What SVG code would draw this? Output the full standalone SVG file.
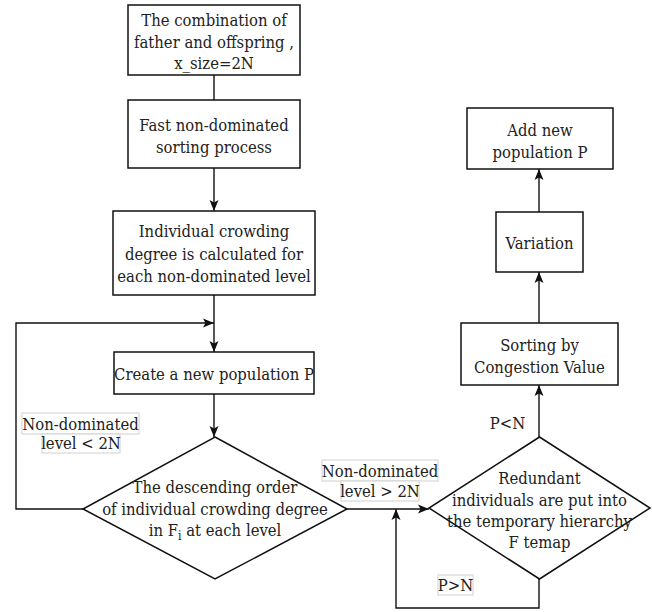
<svg xmlns="http://www.w3.org/2000/svg" width="652" height="612" viewBox="0 0 652 612">
<defs>
<style>
.box{fill:#fff;stroke:#111;stroke-width:1.5}
.t{font-family:'DejaVu Serif Condensed','DejaVu Serif',serif;font-stretch:condensed;font-size:16.5px;fill:#222;text-anchor:middle}
.c{fill:none;stroke:#111;stroke-width:1.4}
.lb{fill:#fff;stroke:#d0d0d0;stroke-width:1}
</style>
<marker id="arr" markerUnits="userSpaceOnUse" markerWidth="12" markerHeight="10" refX="11" refY="5" orient="auto">
<path d="M0,0.5 L11,5 L0,9.5 L2.5,5 Z" fill="#111"/>
</marker>
</defs>
<rect width="652" height="612" fill="#fff"/>
<g id="connectors">
<path class="c" d="M214,75 V100"/>
<path class="c" d="M214,168 V211" marker-end="url(#arr)"/>
<path class="c" d="M214,295 V352" marker-end="url(#arr)"/>
<path class="c" d="M214,394 V437" marker-end="url(#arr)"/>
<path class="c" d="M83,509 H16 V323 H214" marker-end="url(#arr)"/>
<path class="c" d="M347,509 H429" marker-end="url(#arr)"/>
<path class="c" d="M539,579 V608 H396 V509" marker-end="url(#arr)"/>
<path class="c" d="M539,437 V385" marker-end="url(#arr)"/>
<path class="c" d="M539,323 V272" marker-end="url(#arr)"/>
<path class="c" d="M539,212 V169" marker-end="url(#arr)"/>
</g>
<g id="labels">
<rect class="lb" x="22" y="413" width="117" height="21"/>
<rect class="lb" x="42" y="434" width="78" height="19"/>
<text class="t" x="80.5" y="430">Non-dominated</text>
<text class="t" x="81" y="449">level &lt; 2N</text>
<rect class="lb" x="322" y="460" width="116" height="21"/>
<rect class="lb" x="341" y="481" width="78" height="20"/>
<text class="t" x="380" y="477">Non-dominated</text>
<text class="t" x="380" y="497">level &gt; 2N</text>
<rect class="lb" x="438" y="575" width="35" height="20"/>
<text class="t" x="455.5" y="591">P&gt;N</text>
<text class="t" x="507.5" y="429">P&lt;N</text>
</g>
<g id="n1">
<rect class="box" x="128" y="5" width="172" height="70"/>
<text class="t" x="214" y="26">The combination of<tspan x="214" dy="21.5">father and offspring ,</tspan><tspan x="214" dy="21.5">x_size=2N</tspan></text>
</g>
<g id="n2">
<rect class="box" x="128" y="100" width="172" height="68"/>
<text class="t" x="214" y="131">Fast non-dominated<tspan x="214" dy="22">sorting process</tspan></text>
</g>
<g id="n3">
<rect class="box" x="113" y="211" width="202" height="84"/>
<text class="t" x="214" y="237">Individual crowding<tspan x="214" dy="22.5">degree is calculated for</tspan><tspan x="214" dy="22.5">each non-dominated level</tspan></text>
</g>
<g id="n4">
<rect class="box" x="114" y="352" width="200" height="42"/>
<text class="t" x="214" y="380">Create a new population P</text>
</g>
<g id="n5">
<polygon class="box" points="215,437 347,509 215,579 83,509"/>
<text class="t" x="215" y="493">The descending order<tspan x="215" dy="21.5">of individual crowding degree</tspan><tspan x="215" dy="21.5">in F<tspan font-size="12" dy="4">i</tspan><tspan dy="-4"> at each level</tspan></tspan></text>
</g>
<g id="n6">
<polygon class="box" points="539.5,437 650,508 539.5,579 429,508"/>
<text class="t" x="539.5" y="484">Redundant<tspan x="539.5" dy="21.5">individuals are put into</tspan><tspan x="539.5" dy="21.5">the temporary hierarchy</tspan><tspan x="539.5" dy="21">F temap</tspan></text>
</g>
<g id="n7">
<rect class="box" x="461" y="323" width="157" height="62"/>
<text class="t" x="539.5" y="351">Sorting by<tspan x="539.5" dy="22">Congestion Value</tspan></text>
</g>
<g id="n8">
<rect class="box" x="496" y="212" width="87" height="60"/>
<text class="t" x="539.5" y="249">Variation</text>
</g>
<g id="n9">
<rect class="box" x="467" y="108" width="146" height="61"/>
<text class="t" x="540" y="136">Add new<tspan x="540" dy="22">population P</tspan></text>
</g>
</svg>
